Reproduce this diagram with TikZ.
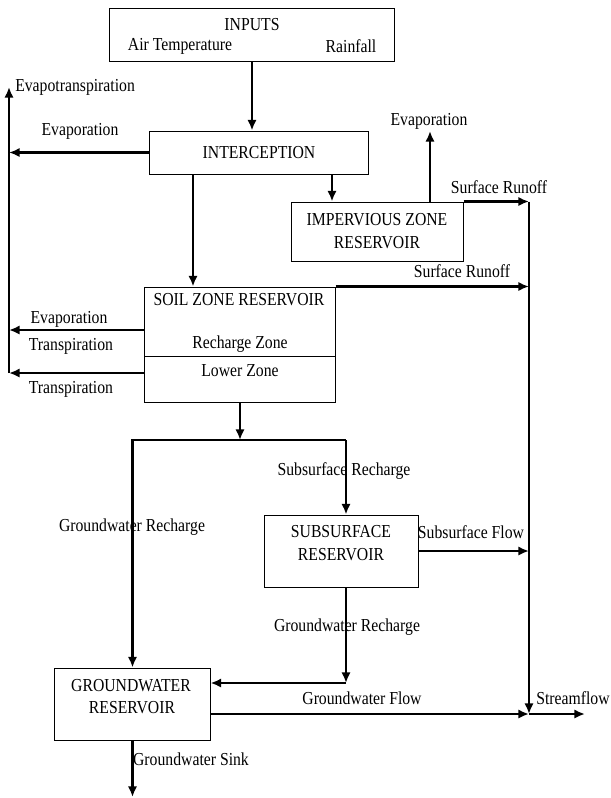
\documentclass[tikz,border=0pt]{standalone}
\usepackage{fontspec}
\setmainfont{Liberation Serif}[FakeStretch=0.86]
\usetikzlibrary{arrows.meta}

\begin{document}
\begin{tikzpicture}[x=0.025cm,y=-0.025cm,
  every node/.style={font=\fontsize{13}{15}\selectfont, inner sep=0pt},
  box/.style={draw, line width=0.7pt},
  flow/.style={line width=1.5pt, -{Latex[length=7.5pt,width=6.5pt]}}]
\useasboundingbox (0,0) rectangle (611,798);

% reservoirs
\node[box, minimum width=7.1cm, minimum height=1.325cm] (inputs) at (252,34.5) {};
\node[box, minimum width=5.45cm, minimum height=1.075cm] (intercept) at (259,152.5) {INTERCEPTION};
\node[box, minimum width=4.275cm, minimum height=1.475cm] (imperv) at (377.5,231.5) {};
\node[box, minimum width=4.75cm, minimum height=2.875cm] (soil) at (240,344.5) {};
\node[box, minimum width=3.825cm, minimum height=1.8cm] (subsurf) at (341.5,551) {};
\node[box, minimum width=3.875cm, minimum height=1.8cm] (ground) at (132.5,704) {};

% helper points
\coordinate (etTop) at (9,87);
\coordinate (etEvap) at (9,330);
\coordinate (etBot) at (9,373);
\coordinate (xA) at (193,0);
\coordinate (xB) at (332,0);
\coordinate (xS) at (346,0);
\coordinate (div) at (0,356);
\coordinate (impEvap) at (430,131);
\coordinate (split) at (240,440);
\coordinate (gwr) at (346,683);
\coordinate (jct) at (529,714);
\coordinate (outlet) at (585,714);
\coordinate (sink) at (132.5,797);

\draw [line width=0.7pt] (soil.west |- div) -- (soil.east |- div);

% flows
\draw [flow] (inputs.south) -- (inputs.south |- intercept.north);
\draw [flow] (intercept.west) -- (intercept.west -| etTop);
\draw [flow] (etBot) -- (etTop);
\draw [flow] (intercept.south -| xA) -- (soil.north -| xA);
\draw [flow] (intercept.south -| xB) -- (imperv.north -| xB);
\draw [flow] (imperv.north -| impEvap) -- (impEvap);
\draw [flow] (imperv.north east) -- (imperv.north east -| jct);
\draw [flow] (imperv.north east -| jct) -- (jct);
\draw [flow] (soil.north east) -- (soil.north east -| jct);
\draw [flow] (soil.west |- etEvap) -- (etEvap);
\draw [flow] (soil.west |- etBot) -- (etBot);
\draw [flow] (soil.south) -- (split);
\draw [flow] (split -| xS) -- (split -| ground.north) -- (ground.north);
\draw [flow] (split -| xS) -- (subsurf.north -| xS);
\draw [flow] (subsurf.east) -- (subsurf.east -| jct);
\draw [flow] (subsurf.south -| gwr) -- (gwr);
\draw [flow] (gwr) -- (gwr -| ground.east);
\draw [flow] (ground.east |- jct) -- (jct);
\draw [flow] (jct) -- (outlet);
\draw [flow] (ground.south) -- (sink);

% texts
\node (tInputs) at (252,25) {INPUTS};
\node (tAir) at (180,46) {Air Temperature};
\node (tRain) at (351,46) {Rainfall};
\node[anchor=west] (tEt) at (15,87) {Evapotranspiration};
\node (tEvapA) at (80,131) {Evaporation};
\node (tEvapB) at (429,121) {Evaporation};
\node (tRunA) at (499,187) {Surface Runoff};
\node (tImpA) at (377,220) {IMPERVIOUS ZONE};
\node (tImpB) at (377,243) {RESERVOIR};
\node (tRunB) at (462,271) {Surface Runoff};
\node (tSoil) at (239,300) {SOIL ZONE RESERVOIR};
\node (tEvapC) at (69,319) {Evaporation};
\node (tTransA) at (71,346) {Transpiration};
\node (tRecharge) at (240,344) {Recharge Zone};
\node (tLower) at (240,371) {Lower Zone};
\node (tTransB) at (71,389) {Transpiration};
\node (tSubRch) at (344,471) {Subsurface Recharge};
\node (tGwRchA) at (132,527) {Groundwater Recharge};
\node (tSubA) at (341,532) {SUBSURFACE};
\node (tSubB) at (341,555) {RESERVOIR};
\node (tSubFlow) at (471,532) {Subsurface Flow};
\node (tGwRchB) at (347,627) {Groundwater Recharge};
\node (tGwA) at (131,686) {GROUNDWATER};
\node (tGwB) at (132,708) {RESERVOIR};
\node (tGwFlow) at (362,698) {Groundwater Flow};
\node (tStream) at (573,698) {Streamflow};
\node (tSink) at (191,759) {Groundwater Sink};

\end{tikzpicture}
\end{document}
